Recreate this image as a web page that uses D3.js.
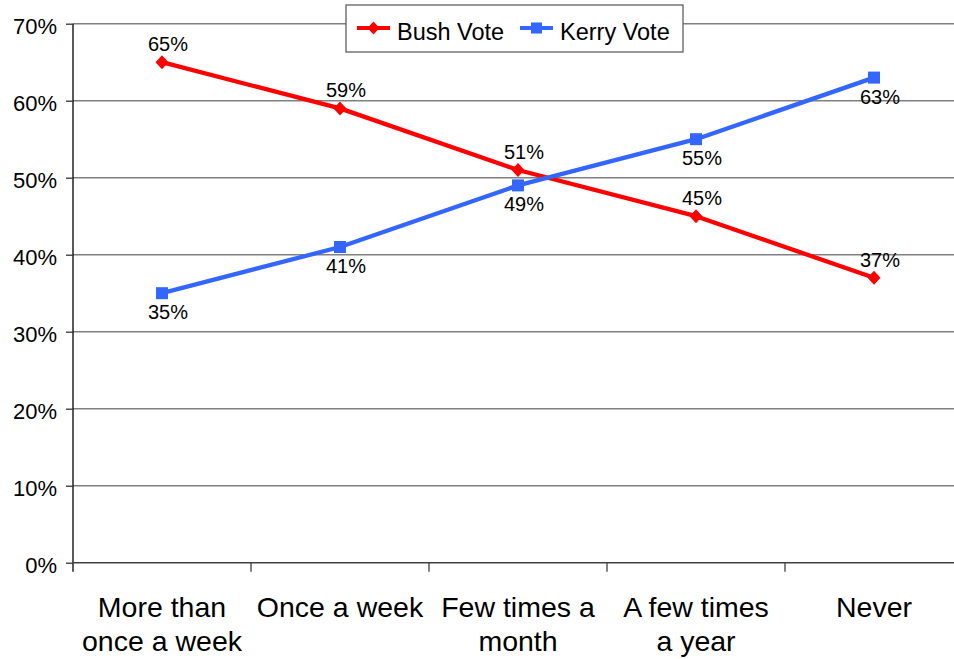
<!DOCTYPE html>
<html>
<head>
<meta charset="utf-8">
<script src="https://cdn.jsdelivr.net/npm/d3@7"></script>
<style>
  html, body { margin: 0; padding: 0; background: #fff; }
  svg { display: block; font-family: "Liberation Sans", Arial, sans-serif; }
</style>
</head>
<body>
<svg id="chart" width="954" height="659"></svg>
<script>
// Vote share by frequency of church attendance
const categories = [
  ["More than", "once a week"],
  ["Once a week"],
  ["Few times a", "month"],
  ["A few times", "a year"],
  ["Never"]
];
const bushVote  = [65, 59, 51, 45, 37];
const kerryVote = [35, 41, 49, 55, 63];
const yTicks = [0, 10, 20, 30, 40, 50, 60, 70];
const seriesNames = ["Bush Vote", "Kerry Vote"];

const svg = d3.select("#chart");
const W = 954;
const plotLeft = 73, plotRight = 963, plotTop = 23.7, plotBottom = 562.7;

const keys = categories.map((c, i) => i);
const x = d3.scaleBand().domain(keys).range([plotLeft, plotRight]).padding(0);
const y = d3.scaleLinear().domain([0, 70]).range([plotBottom, plotTop]);
const cx = i => x(i) + x.bandwidth() / 2;

// horizontal gridlines
svg.append("g")
  .selectAll("line")
  .data(yTicks.filter(d => d > 0))
  .join("line")
  .attr("x1", plotLeft).attr("x2", W)
  .attr("y1", d => y(d)).attr("y2", d => y(d))
  .attr("stroke", "#808080").attr("stroke-width", 1.5);

// y axis
const yAxis = svg.append("g").attr("transform", `translate(${plotLeft},0)`)
  .call(d3.axisLeft(y).tickValues(yTicks).tickSize(7).tickPadding(9).tickFormat(d => d + "%"));
yAxis.select(".domain").attr("stroke", "#000").attr("stroke-width", 1.3).attr("d", `M0,${plotTop}V${plotBottom + 9}`);
yAxis.selectAll(".tick line").attr("stroke", "#333").attr("stroke-width", 1.3);
yAxis.selectAll(".tick text")
  .attr("font-size", 22).attr("fill", "#000")
  .attr("font-family", "Liberation Sans, Arial, sans-serif")
  .attr("dy", "0.45em");

// x axis
const xAxis = svg.append("g").attr("transform", `translate(0,${plotBottom})`);
xAxis.append("line")
  .attr("x1", plotLeft).attr("x2", W).attr("y1", 0).attr("y2", 0)
  .attr("stroke", "#404040").attr("stroke-width", 1.5);
xAxis.selectAll("line.tk")
  .data(keys.slice(1))
  .join("line").attr("class", "tk")
  .attr("x1", d => x(d)).attr("x2", d => x(d))
  .attr("y1", 0).attr("y2", 9)
  .attr("stroke", "#404040").attr("stroke-width", 1.3);
const catText = xAxis.selectAll("text.cat")
  .data(keys)
  .join("text").attr("class", "cat")
  .attr("text-anchor", "middle")
  .attr("font-size", 28.5)
  .attr("fill", "#000");
catText.selectAll("tspan")
  .data(i => categories[i].map(t => ({ t, i })))
  .join("tspan")
  .attr("x", d => cx(d.i))
  .attr("y", (d, j) => 54.5 + j * 34)
  .text(d => d.t);

// series
const line = d3.line().x((d, i) => cx(i)).y(d => y(d));
const diamond = (px, py, hw, hh) => `M${px},${py - hh}L${px + hw},${py}L${px},${py + hh}L${px - hw},${py}Z`;

function drawSeries(values, color, marker, labelAbove) {
  const g = svg.append("g");
  g.append("path").datum(values)
    .attr("d", line).attr("fill", "none")
    .attr("stroke", color).attr("stroke-width", 4.3)
    .attr("stroke-linejoin", "round");
  if (marker === "diamond") {
    g.selectAll("path.m").data(values).join("path").attr("class", "m")
      .attr("d", (d, i) => diamond(cx(i), y(d), 6.5, 7))
      .attr("fill", color);
  } else {
    g.selectAll("rect.m").data(values).join("rect").attr("class", "m")
      .attr("x", (d, i) => cx(i) - 6).attr("y", d => y(d) - 6)
      .attr("width", 12).attr("height", 12)
      .attr("fill", color);
  }
  g.selectAll("text.lbl").data(values).join("text").attr("class", "lbl")
    .attr("x", (d, i) => cx(i) + 6)
    .attr("y", d => labelAbove ? y(d) - 11 : y(d) + 26)
    .attr("text-anchor", "middle")
    .attr("font-size", 20).attr("fill", "#000")
    .text(d => d + "%");
}
drawSeries(bushVote, "#ff0000", "diamond", true);
drawSeries(kerryVote, "#3366ff", "square", false);

// legend
const lg = svg.append("g");
lg.append("rect").attr("x", 346).attr("y", 5).attr("width", 337).attr("height", 47)
  .attr("fill", "#fff").attr("stroke", "#606060").attr("stroke-width", 1.3);
const legendItems = [
  { name: seriesNames[0], color: "#ff0000", marker: "diamond", x0: 357 },
  { name: seriesNames[1], color: "#3366ff", marker: "square", x0: 520 }
];
legendItems.forEach(it => {
  const ly = 28;
  lg.append("line").attr("x1", it.x0).attr("x2", it.x0 + 33).attr("y1", ly).attr("y2", ly)
    .attr("stroke", it.color).attr("stroke-width", 4);
  const mx = it.x0 + 16.5;
  if (it.marker === "diamond") {
    lg.append("path").attr("d", diamond(mx, ly, 6, 6.5)).attr("fill", it.color);
  } else {
    lg.append("rect").attr("x", mx - 5.5).attr("y", ly - 5.5).attr("width", 11).attr("height", 11).attr("fill", it.color);
  }
  lg.append("text").attr("x", it.x0 + 40).attr("y", 39.5)
    .attr("font-size", 23.5).attr("fill", "#000").text(it.name);
});
</script>
</body>
</html>
